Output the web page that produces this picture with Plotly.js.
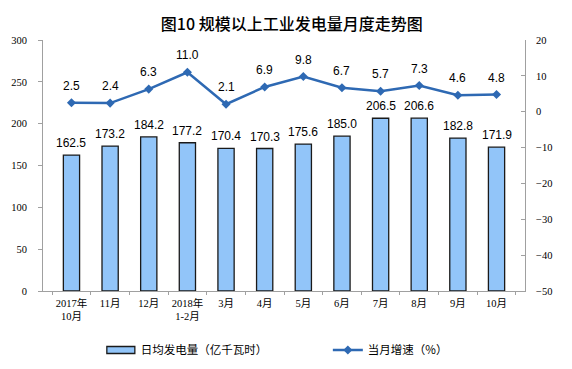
<!DOCTYPE html>
<html>
<head>
<meta charset="utf-8">
<script src="https://cdn.plot.ly/plotly-3.0.1.min.js"></script>
<style>html,body{margin:0;padding:0;background:#fff;}#chart{width:572px;height:369px;}</style>
</head>
<body>
<div id="chart"></div>
<script>
const categories = ["2017年<br>10月","11月","12月","2018年<br>1-2月","3月","4月","5月","6月","7月","8月","9月","10月"];
const dailyOutput = [162.5,173.2,184.2,177.2,170.4,170.3,175.6,185.0,206.5,206.6,182.8,171.9];
const growthRate = [2.5,2.4,6.3,11.0,2.1,6.9,9.8,6.7,5.7,7.3,4.6,4.8];
const leftTicks = [0,50,100,150,200,250,300];
const rightTicks = [-50,-40,-30,-20,-10,0,10,20];

const tickFont = {family: "Liberation Serif, Noto Sans CJK SC, serif", size: 10.5, color: "#000"};
const labelFont = {family: "Liberation Sans, Arial, sans-serif", size: 12, color: "#000"};
const lineColor = "#2E69B3";

const traces = [
  {
    type: "bar",
    name: "日均发电量（亿千瓦时）",
    x: categories,
    y: dailyOutput,
    marker: {color: "#92C5F9", line: {color: "#1a1a1a", width: 1.3}},
    hoverinfo: "none"
  },
  {
    type: "scatter",
    mode: "lines+markers",
    name: "当月增速（%）",
    x: categories,
    y: growthRate,
    yaxis: "y2",
    line: {color: lineColor, width: 2.5},
    marker: {symbol: "diamond", size: 7, color: lineColor},
    cliponaxis: false,
    hoverinfo: "none"
  }
];

const barLabels = categories.map((c, i) => ({
  x: c, y: dailyOutput[i], xref: "x", yref: "y",
  text: dailyOutput[i].toFixed(1), showarrow: false,
  yanchor: "middle", yshift: 12, font: labelFont
}));
const lineLabels = categories.map((c, i) => ({
  x: c, y: growthRate[i], xref: "x", yref: "y2",
  text: growthRate[i].toFixed(1), showarrow: false,
  yanchor: "middle", yshift: 17, font: labelFont
}));

const layout = {
  width: 572, height: 369,
  margin: {l: 43, r: 47, t: 40, b: 78, autoexpand: false},
  paper_bgcolor: "#fff", plot_bgcolor: "#fff",
  title: {text: "图10 规模以上工业发电量月度走势图", x: 0.51, xanchor: "center", y: 0.934, yanchor: "middle",
          font: {family: "Noto Sans CJK SC, sans-serif", size: 16, color: "#000", weight: 500}},
  bargap: 0.58,
  showlegend: true,
  legend: {orientation: "h", x: 0.12, xanchor: "left", y: -0.235, yanchor: "middle",
           font: {family: "Noto Sans CJK SC, sans-serif", size: 11.5, color: "#000"}, itemwidth: 30,
           entrywidth: 182, entrywidthmode: "pixels"},
  annotations: barLabels.concat(lineLabels),
  xaxis: {
    showline: true, linecolor: "#a0a0a0", linewidth: 1,
    ticks: "outside", tickson: "boundaries", ticklen: 3, tickcolor: "#a0a0a0",
    tickfont: {family: "Liberation Serif, Noto Sans CJK SC, serif", size: 10.5, color: "#000"},
    tickangle: 0, showgrid: false, zeroline: false, ticklabelstandoff: 2
  },
  yaxis: {
    range: [0, 300], tickvals: leftTicks, ticks: "outside", ticklen: 4, tickcolor: "#a0a0a0",
    showline: true, linecolor: "#a0a0a0", showgrid: false, zeroline: false,
    tickfont: tickFont, ticklabelstandoff: 9
  },
  yaxis2: {
    range: [-50, 20], tickvals: rightTicks, overlaying: "y", side: "right",
    ticks: "inside", ticklen: 4, tickcolor: "#a0a0a0",
    showline: true, linecolor: "#a0a0a0", showgrid: false, zeroline: false,
    tickfont: tickFont, ticklabelstandoff: 8
  }
};

function widenBarSymbol() {
  const gd = document.getElementById("chart");
  gd.querySelectorAll(".legend .traces").forEach(t => {
    t.querySelectorAll(".legendpoints path").forEach(path => {
      const cls = path.getAttribute("class") || "";
      if (cls.indexOf("legendbar") !== -1 || cls.indexOf("legendundefined") !== -1 ||
          (path.getAttribute("d") || "").indexOf("M6,6H-6V-6H6Z") !== -1) {
        path.setAttribute("d", "M14,3.5H-14V-3.5H14Z");
      }
    });
  });
}

const gd = document.getElementById("chart");
Plotly.newPlot(gd, traces, layout, {displayModeBar: false, staticPlot: true}).then(() => {
  widenBarSymbol();
  gd.on("plotly_afterplot", widenBarSymbol);
  setTimeout(widenBarSymbol, 50);
  setTimeout(widenBarSymbol, 300);
});
</script>
</body>
</html>
